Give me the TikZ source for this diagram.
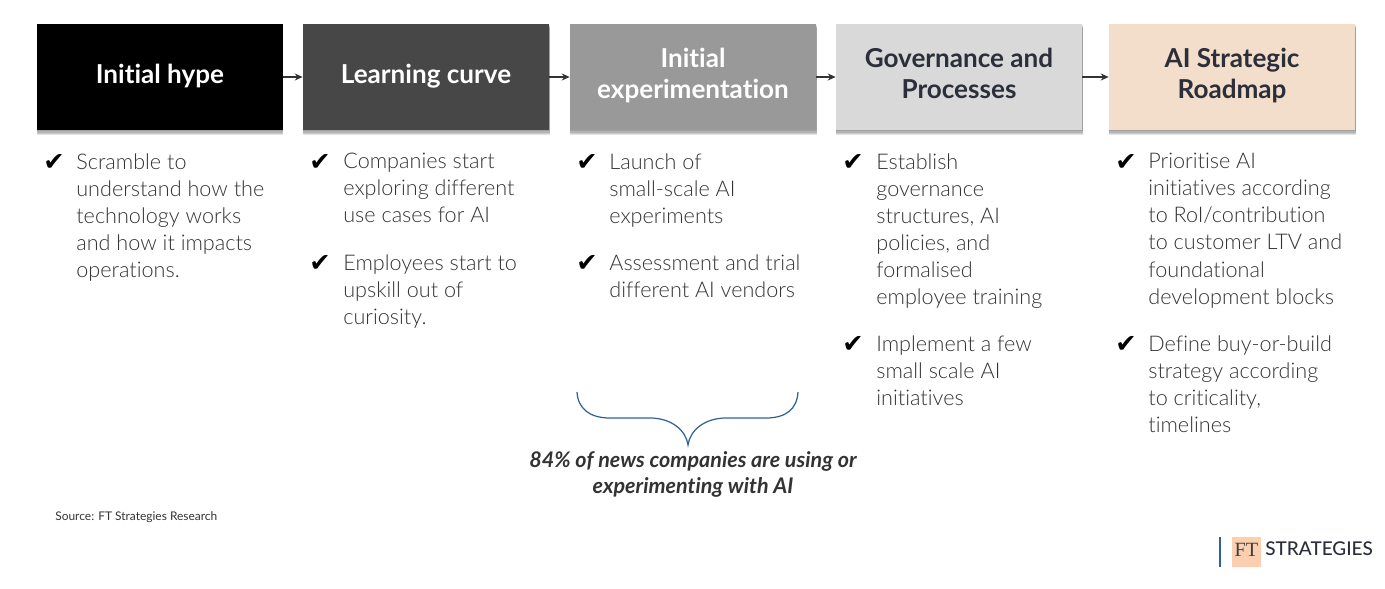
\documentclass[tikz,border=0pt]{standalone}
\usepackage{fontspec}
\setmainfont{Lato}[Ligatures=NoCommon]
\newfontfamily\bodyfont{Lato Light}[Ligatures=NoCommon]
\newfontfamily\checkfont{DejaVu Sans}
\newfontfamily\logofont{Liberation Serif}
\newfontfamily\namefont{Lato Medium}
\usetikzlibrary{arrows.meta,shadows}
\definecolor{inktext}{HTML}{333333}
\definecolor{headdark}{HTML}{2B2F3A}
\definecolor{bracecol}{HTML}{2F6296}
\definecolor{peachbox}{HTML}{F3DDCB}
\definecolor{peachlogo}{HTML}{FBCFB0}
\tikzset{
    softshadow/.style={general shadow={shadow xshift=0pt,shadow yshift=-#1,shadow scale=1.004,opacity=0.11,fill=black}},
    stagebox/.style={minimum width=246*0.02cm,minimum height=106*0.02cm,inner sep=0pt,align=center,
        font=\fontsize{14.85}{17.6}\selectfont\bfseries,
        softshadow=2.6pt,softshadow=2pt,softshadow=1.3pt,softshadow=0.6pt},
    bullettext/.style={anchor=north west,inner sep=0pt,align=left,text=inktext,
        font=\bodyfont\fontsize{12.3}{15.4}\selectfont},
    tick/.style={inner sep=0pt,font=\checkfont\fontsize{14.5}{15}\selectfont},
    flow/.style={-{Stealth[length=4.5pt,width=4pt]},line width=0.7pt,draw=inktext}
}
\begin{document}
\begin{tikzpicture}[x=0.02cm,y=-0.02cm]
    \useasboundingbox (0,0) rectangle (1385,588);

    % Stage boxes
    \node[stagebox,fill=black,text=white] (hype) at (160,77) {Initial hype\strut};
    \node[stagebox,fill=black!72,text=white] (curve) at (426,77) {Learning curve\strut};
    \node[stagebox,fill=black!40,text=white] (expt) at (693,77) {\strut Initial\\experimentation\strut};
    \node[stagebox,fill=black!15,text=headdark] (gov) at (959,77) {\strut Governance and\\Processes\strut};
    \node[stagebox,fill=peachbox,text=headdark] (road) at (1232,77) {\strut AI Strategic\\Roadmap\strut};

    % Arrows
    \draw[flow] (hype) -- (curve);
    \draw[flow] (curve) -- (expt);
    \draw[flow] (expt) -- (gov);
    \draw[flow] (gov) -- (road);

    % Column 1
    \node[tick] (t1a) at (54,162) {✔};
    \node[bullettext] (b1a) at (76,153) {Scramble to\\understand how the\\technology works\\and how it impacts\\operations.};

    % Column 2
    \node[tick] (t2a) at (320,162) {✔};
    \node[bullettext] (b2a) at (343,153) {Companies start\\exploring different\\use cases for AI};
    \node[tick] (t2b) at (320,263) {✔};
    \node[bullettext] (b2b) at (343,254) {Employees start to\\upskill out of\\curiosity.};

    % Column 3
    \node[tick] (t3a) at (587,162) {✔};
    \node[bullettext] (b3a) at (609,153) {Launch of\\small-scale AI\\experiments};
    \node[tick] (t3b) at (587,263) {✔};
    \node[bullettext] (b3b) at (609,254) {Assessment and trial\\different AI vendors};

    % Column 4
    \node[tick] (t4a) at (853,162) {✔};
    \node[bullettext] (b4a) at (876,153) {Establish\\governance\\structures, AI\\policies, and\\formalised\\employee training};
    \node[tick] (t4b) at (853,344) {✔};
    \node[bullettext] (b4b) at (876,335) {Implement a few\\small scale AI\\initiatives};

    % Column 5
    \node[tick] (t5a) at (1126,162) {✔};
    \node[bullettext] (b5a) at (1148,153) {Prioritise AI\\initiatives according\\to RoI/contribution\\to customer LTV and\\foundational\\development blocks};
    \node[tick] (t5b) at (1126,344) {✔};
    \node[bullettext] (b5b) at (1148,335) {Define buy-or-build\\strategy according\\to criticality,\\timelines};

    % Brace
    \draw[bracecol,line width=0.7pt] (577,392) .. controls (578,409) and (590,418) .. (610,418)
        -- (650,418) .. controls (671,418) and (686,430) .. (688,445)
        .. controls (690,430) and (705,418) .. (726,418)
        -- (766,418) .. controls (786,418) and (797,409) .. (798,392);
    \node[align=center,inner sep=0pt,text=inktext,font=\fontsize{12.25}{14.8}\selectfont\bfseries\itshape] (note) at (693,474.5)
        {84\% of news companies are using or\\experimenting with AI};

    % Source and logo
    \node[anchor=west,inner sep=0pt,text=inktext,font=\fontsize{6.8}{8}\selectfont] (src) at (55,517) {Source: FT Strategies Research};
    \draw[bracecol,line width=0.8pt] (1220,537) -- (1220,567);
    \node[fill=peachlogo,minimum width=29*0.02cm,minimum height=30*0.02cm,inner sep=0pt,text=black!75,
        font=\logofont\fontsize{11.5}{12}\selectfont] (ftbox) at (1246.5,552) {\raisebox{2.5pt}{FT}};
    \node[anchor=west,inner sep=0pt,text=headdark,font=\namefont\fontsize{10.8}{12}\selectfont] (ftname) at (1265,549) {STRATEGIES};
\end{tikzpicture}
\end{document}
